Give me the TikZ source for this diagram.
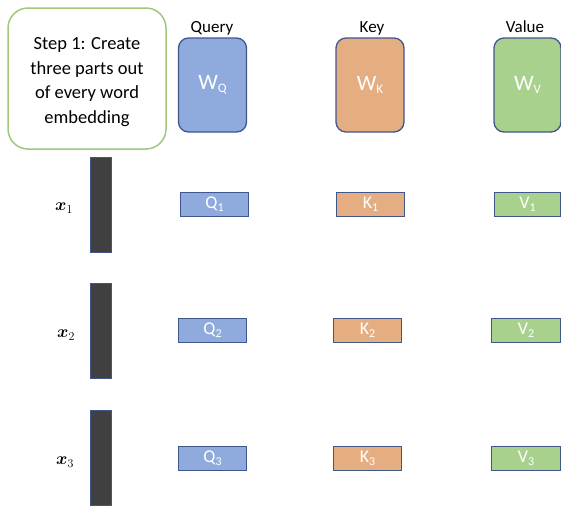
\documentclass[tikz,border=0pt]{standalone}
\usepackage{fontspec}
\usepackage{amsmath}
\setmainfont{Carlito}
\definecolor{qfill}{HTML}{8FAADC}
\definecolor{kfill}{HTML}{E5AD82}
\definecolor{vfill}{HTML}{A9D18E}
\definecolor{edge}{HTML}{40568C}
\definecolor{stepedge}{HTML}{9CC97E}
\definecolor{barfill}{HTML}{404040}
\newcommand{\lowsub}[3]{\raisebox{-#2}{\fontsize{#1}{#1}\selectfont #3}}
\begin{document}
\begin{tikzpicture}[x=1pt,y=-1pt,
  stepbox/.style={draw=stepedge,line width=1.5pt,rounded corners=20pt,fill=white,
    minimum width=158pt,minimum height=141pt,inner sep=0pt},
  steptext/.style={align=center,inner sep=0pt,font=\fontsize{18.5}{24.5}\selectfont},
  wmat/.style={draw=edge,line width=1.3pt,rounded corners=10pt,
    minimum width=68pt,minimum height=94pt,inner sep=0pt,text=white,
    font=\fontsize{22}{22}\selectfont},
  vec/.style={draw=edge,line width=1.3pt,minimum width=68pt,minimum height=24pt,
    inner sep=0pt,text=white,font=\fontsize{18}{18}\selectfont},
  bar/.style={draw=edge,line width=0.9pt,fill=barfill,minimum width=21pt,
    minimum height=95pt,inner sep=0pt},
  head/.style={font=\fontsize{17}{17}\selectfont,inner sep=0pt},
  xlab/.style={font=\fontsize{17}{17}\selectfont,inner sep=0pt}]
\useasboundingbox (0,0) rectangle (561,507);

% heading box
\node[stepbox] (step) at (87,78.5) {};
\node[steptext] (steplabel) at (87,82) {Step 1: Create\\three parts out\\of every word\\embedding};

% weight matrices
\node[wmat,fill=qfill] (wq) at (212.5,85) {W\lowsub{13}{3pt}{Q}};
\node[wmat,fill=kfill] (wk) at (370,85) {W\lowsub{13}{3pt}{K}};
\node[wmat,fill=vfill,minimum width=67pt] (wv) at (527.5,85) {W\lowsub{13}{3pt}{V}};
\node[head,anchor=base] (lq) at (212,32) {Query};
\node[head,anchor=base] (lk) at (372,32) {Key};
\node[head,anchor=base] (lv) at (525,32) {Value};

% word embeddings
\node[bar] (e1) at (101,204.5) {};
\node[bar] (e2) at (101,331) {};
\node[bar] (e3) at (101,458) {};
\node[xlab] (x1) at (64,208) {$\boldsymbol{x}_1$};
\node[xlab] (x2) at (66,335) {$\boldsymbol{x}_2$};
\node[xlab] (x3) at (65,462) {$\boldsymbol{x}_3$};

% query, key and value vectors
\node[vec,fill=qfill] (q1) at (214.5,204.5) {Q\lowsub{12}{3pt}{1}};
\node[vec,fill=kfill] (k1) at (370.5,204.5) {K\lowsub{12}{3pt}{1}};
\node[vec,fill=vfill,minimum width=66pt] (v1) at (527.5,204.5) {V\lowsub{12}{3pt}{1}};
\node[vec,fill=qfill] (q2) at (212.5,330.5) {Q\lowsub{12}{3pt}{2}};
\node[vec,fill=kfill] (k2) at (367.5,330.5) {K\lowsub{12}{3pt}{2}};
\node[vec,fill=vfill,minimum width=69pt] (v2) at (526,330.5) {V\lowsub{12}{3pt}{2}};
\node[vec,fill=qfill] (q3) at (212.5,458.5) {Q\lowsub{12}{3pt}{3}};
\node[vec,fill=kfill] (k3) at (367.5,458.5) {K\lowsub{12}{3pt}{3}};
\node[vec,fill=vfill,minimum width=69pt] (v3) at (526,458.5) {V\lowsub{12}{3pt}{3}};
\end{tikzpicture}
\end{document}
